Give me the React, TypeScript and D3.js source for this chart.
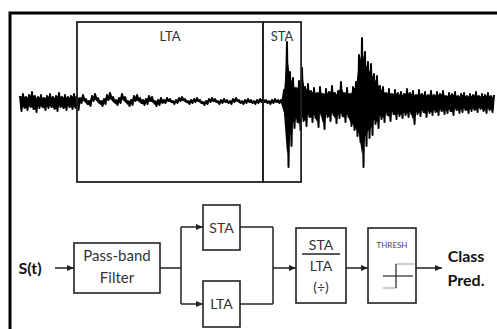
import React from "react";
import * as d3 from "d3";

// waveform envelope (deflection above / below baseline), one sample per 3px
const upperEnv = [
  6, 8, 5, 7, 10, 6, 5, 7, 4, 6, 8, 5, 6, 9, 5, 7, 5, 6, 8, 6,
  4, 7, 3, 1, 6, 8, 4, 1, 3, 7, 9, 5, 2, 4, 8, 5, 1, 2, 6, 7, 4, 2, 3, 6, 5, 1, 2, 4,
  2, 4, 3, 1, 2, 4, 5, 3, 1, 2, 3, 4, 2, 0, 1, 3, 4, 3, 1, 2, 3, 2, 1, 3, 4, 2, 1, 2, 3, 2, 1, 2, 3, 3, 2, 1, 2, 3, 2, 2,
  12, 60, 30, 24, 14, 21, 34, 15, 18, 11,
  14, 9, 15, 8, 13, 10, 16, 9, 11, 20,
  9, 14, 8, 15, 20, 47, 64, 50, 40, 38,
  28, 26, 16, 15, 9, 13, 8, 12, 9, 10,
  8, 13, 9, 11, 7, 12, 8, 10, 7, 11,
  7, 10, 8, 11, 6, 9, 8, 10, 6, 8,
  9, 6, 8, 7, 10, 6, 8, 7, 9, 6, 7,
];
const lowerEnv = [
  -9, -6, -8, -5, -7, -10, -6, -5, -8, -6, -5, -7, -9, -5, -6, -8, -5, -7, -6, -8,
  -1, 2, -2, -4, 1, 3, -1, -4, -2, 2, 4, 0, -3, -1, 3, 0, -4, -3, 1, 2, -1, -3, -2, 1, 0, -4, -3, -1,
  -1, 1, 0, -2, -1, 1, 2, 0, -2, -1, 0, 1, -1, -3, -2, 0, 1, 0, -2, -1, 0, -1, -2, 0, 1, -1, -2, -1, 0, -1, -2, -1, 0, 0, -1, -2, -1, 0, -1, -1,
  -14, -65, -44, -26, -20, -28, -19, -24, -15, -20,
  -16, -25, -13, -27, -15, -19, -13, -21, -16, -14,
  -20, -15, -24, -28, -34, -40, -65, -44, -36, -33,
  -22, -26, -17, -20, -13, -19, -12, -17, -14, -16,
  -13, -15, -12, -22, -12, -14, -10, -15, -11, -13,
  -10, -13, -9, -12, -11, -9, -13, -8, -11, -10,
  -8, -11, -9, -8, -10, -7, -9, -11, -8, -10, -7,
];

// averaging windows in sample index
const ltaWindow = [19, 81];
const staWindow = [81, 93.7];
const windowLabels = ["LTA", "STA"];

const FONT = "Lato, 'Open Sans', sans-serif";
const INK = "#222";

export default function App() {
  const n = upperEnv.length;
  const x = d3.scaleLinear().domain([0, n - 1]).range([20, 494]);
  const y = d3.scaleLinear().domain([-65, 65]).range([167, 37]);

  // trace swings between the upper and lower envelope every half sample
  const pts: { t: number; v: number }[] = [];
  upperEnv.forEach((hi, i) => {
    pts.push({ t: i, v: hi });
    if (i < n - 1) pts.push({ t: i + 0.5, v: lowerEnv[i] });
  });
  const trace = d3
    .line<{ t: number; v: number }>()
    .x((d) => x(d.t))
    .y((d) => y(d.v));

  // solid core of the trace
  const core = 0.8;
  const band = d3
    .area<number>()
    .x((_, i) => x(i))
    .y0((_, i) => y(lowerEnv[i] * core))
    .y1((d) => y(d * core));

  const wins = [ltaWindow, staWindow];

  const box = (x0: number, y0: number, x1: number, y1: number) => (
    <rect x={x0} y={y0} width={x1 - x0} height={y1 - y0} fill="white" stroke={INK} strokeWidth={1.6} />
  );
  const line = (d: string, arrow = false) => (
    <path d={d} fill="none" stroke={INK} strokeWidth={1.5} markerEnd={arrow ? "url(#arr)" : undefined} />
  );

  const mid = 268;

  return (
    <svg width={497} height={329} style={{ position: "absolute", left: 0, top: 0, background: "white" }} fontFamily={FONT}>
      <defs>
        <marker id="arr" markerUnits="userSpaceOnUse" markerWidth={7} markerHeight={6} refX={7} refY={3} orient="auto">
          <path d="M0,0 L7,3 L0,6 z" fill={INK} />
        </marker>
      </defs>

      {/* outer frame, clipped by page */}
      <path d="M10,331 V13 H499" fill="none" stroke="#000" strokeWidth={3} />

      {/* waveform */}
      <path d={band(upperEnv) || ""} fill="#000" />
      <path d={trace(pts) || ""} fill="none" stroke="#000" strokeWidth={2} strokeLinejoin="round" />

      {/* LTA / STA windows */}
      {wins.map((w, k) => (
        <g key={k}>
          <rect x={x(w[0])} y={22} width={x(w[1]) - x(w[0])} height={160} fill="none" stroke={INK} strokeWidth={1.8} />
          <text x={(x(w[0]) + x(w[1])) / 2} y={41} textAnchor="middle" fontSize={13} fill="#333">
            {windowLabels[k]}
          </text>
        </g>
      ))}

      {/* block diagram */}
      <text x={30} y={mid + 6} textAnchor="middle" fontSize={16} fontWeight="bold" fill="#111">S(t)</text>
      {line(`M55,${mid} H74`, true)}

      {box(74, 243, 160, 293)}
      <text x={117} y={261} textAnchor="middle" fontSize={15} fill="#333">Pass-band</text>
      <text x={117} y={283} textAnchor="middle" fontSize={15} fill="#333">Filter</text>

      {line(`M160,${mid} H181`)}
      {line("M181,227 V304")}
      {line("M181,227 H203", true)}
      {line("M181,304 H203", true)}

      {box(203, 205, 240, 250)}
      <text x={221.5} y={232.5} textAnchor="middle" fontSize={14} fill="#333">STA</text>
      {box(203, 281, 240, 327)}
      <text x={221.5} y={309} textAnchor="middle" fontSize={14} fill="#333">LTA</text>

      {line("M240,227 H273")}
      {line("M240,304 H273")}
      {line("M273,227 V304")}
      {line(`M273,${mid} H296`, true)}

      {box(296, 228, 346, 303)}
      <text x={321} y={250} textAnchor="middle" fontSize={14} fill="#333">STA</text>
      <line x1={302} x2={340} y1={254} y2={254} stroke={INK} strokeWidth={1.4} />
      <text x={321} y={271} textAnchor="middle" fontSize={14} fill="#333">LTA</text>
      <text x={321} y={292} textAnchor="middle" fontSize={14} fill="#333">(÷)</text>

      {line(`M346,${mid} H368`, true)}

      {box(368, 228, 416, 303)}
      <text x={392} y={248} textAnchor="middle" fontSize={8} fill="#444">THRESH</text>
      <path d="M383,288 H396 V264 H415" fill="none" stroke="#999" strokeWidth={1.2} />
      <line x1={383} x2={413} y1={276} y2={276} stroke="#333" strokeWidth={1.3} />
      <line x1={396} x2={396} y1={264} y2={288} stroke="#444" strokeWidth={1.2} />

      {line(`M416,${mid} H442`, true)}
      <text x={466} y={262} textAnchor="middle" fontSize={16} fontWeight="bold" fill="#111">Class</text>
      <text x={466} y={286} textAnchor="middle" fontSize={16} fontWeight="bold" fill="#111">Pred.</text>
    </svg>
  );
}
